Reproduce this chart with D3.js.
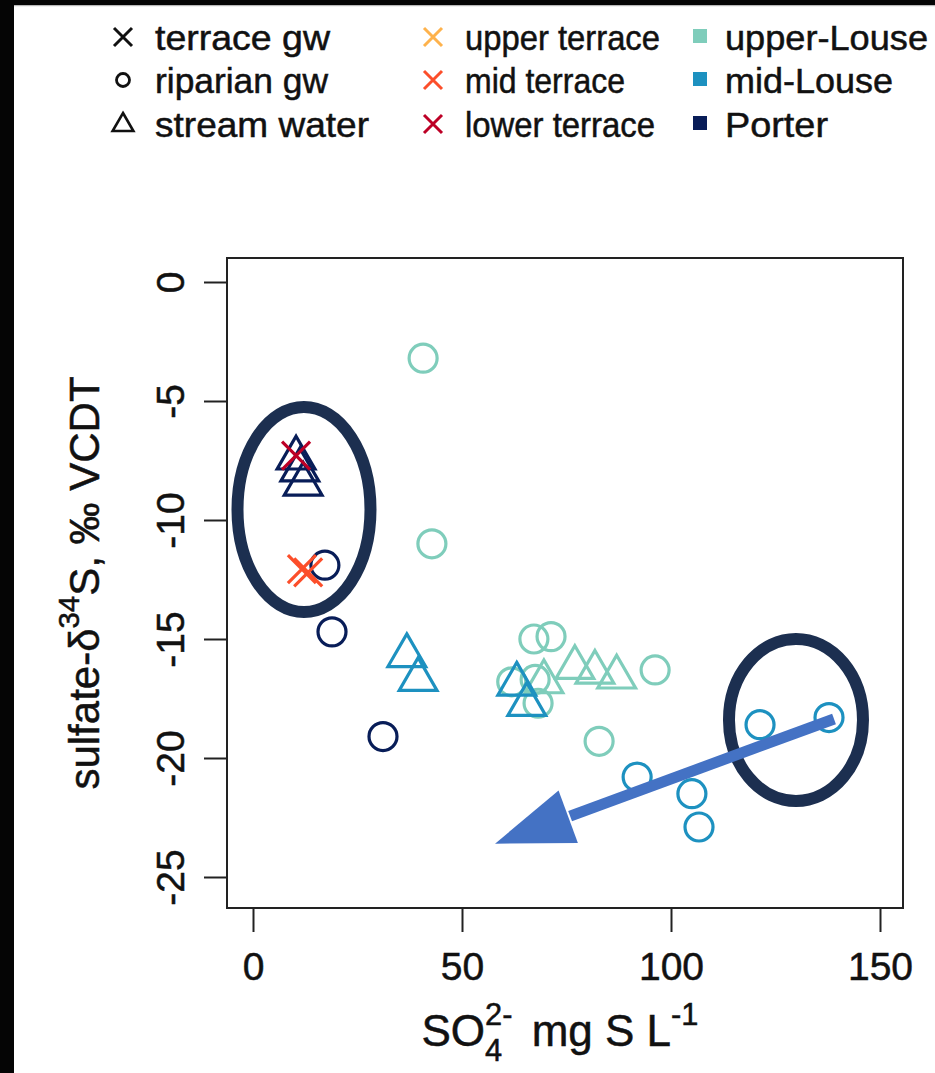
<!DOCTYPE html>
<html>
<head>
<meta charset="utf-8">
<script src="https://cdn.jsdelivr.net/npm/d3@7"></script>
<style>
  html, body { margin: 0; padding: 0; background: #fff; }
  svg { display: block; }
  text { font-family: "Liberation Sans", Arial, sans-serif; }
</style>
</head>
<body>
<svg id="chart" width="935" height="1073"></svg>
<script>
// ---------------- data ----------------
const xTicks = [0, 50, 100, 150];
const yTicks = [0, -5, -10, -15, -20, -25];

const siteNames = ["upper-Louse", "mid-Louse", "Porter"];
const siteColors = ["#7fcdbb", "#1d91c0", "#081d58"];
const terraceNames = ["upper terrace", "mid terrace", "lower terrace"];
const terraceColors = ["#feb24c", "#fc4e2a", "#bd0026"];
const typeNames = ["terrace gw", "riparian gw", "stream water"];

// riparian groundwater (circles)  [SO4 mg S/L, d34S]
const riparianUpperLouse = [[40.7, -3.2], [42.8, -11.0], [67.2, -15.0], [71.3, -14.9], [96.2, -16.3], [82.8, -19.3], [61.9, -16.8], [67.5, -16.7], [68.2, -17.7]];
const riparianMidLouse = [[121.3, -18.6], [137.8, -18.3], [91.9, -20.8], [105.0, -21.5], [106.7, -22.9]];
const riparianPorter = [[17.2, -11.9], [18.9, -14.7], [31.1, -19.1]];

// stream water (triangles)
const streamUpperLouse = [[69.6, -16.8], [77.0, -16.2], [81.8, -16.4], [87.0, -16.6]];
const streamMidLouse = [[36.8, -15.7], [39.5, -16.7], [63.1, -16.9], [65.5, -17.75]];
const streamPorter = [[10.3, -7.4], [11.2, -7.9], [12.0, -8.5]];

// terrace groundwater (crosses)
const terraceUpper = [];
const terraceMid = [[11.7, -12.06], [13.2, -12.2]];
const terraceLower = [[10.3, -7.3]];

// annotations (data coordinates)
const ellipseCenters = [[12.2, -9.56], [129.9, -18.4]];
const arrowFrom = [139.0, -18.36];
const arrowTo = [57.9, -23.6];

// ---------------- drawing ----------------
const svg = d3.select("#chart");
const W = 935, H = 1073;
svg.append("rect").attr("width", W).attr("height", H).attr("fill", "#fff");
// black frame bits from the screenshot
svg.append("rect").attr("x", 0).attr("y", 0).attr("width", 14).attr("height", H).attr("fill", "#050505");
svg.append("rect").attr("x", 0).attr("y", 0).attr("width", W).attr("height", 5).attr("fill", "#050505");
svg.append("rect").attr("x", 14).attr("y", 5).attr("width", W - 14).attr("height", 1.2).attr("fill", "#b8b8b8");

const box = {left: 227, right: 903, top: 258, bottom: 908};
const x = d3.scaleLinear().domain([0, 150]).range([253, 880]);
const y = d3.scaleLinear().domain([0, -25]).range([282, 877]);

const ink = "#111";
const plainFmt = d => String(d);

// plot box
svg.append("rect").attr("x", box.left).attr("y", box.top)
  .attr("width", box.right - box.left).attr("height", box.bottom - box.top)
  .attr("fill", "none").attr("stroke", "#222").attr("stroke-width", 2);

// axes
const xAxis = d3.axisBottom(x).tickValues(xTicks).tickSize(24).tickPadding(20).tickFormat(plainFmt);
const gx = svg.append("g").attr("transform", `translate(0,${box.bottom})`).call(xAxis);
gx.select(".domain").attr("stroke", "#222").attr("stroke-width", 2).attr("d", `M${x(0)},0H${x(150)}`);
gx.selectAll(".tick line").attr("stroke", "#222").attr("stroke-width", 2);
gx.selectAll(".tick text").attr("font-size", 39).attr("fill", ink)
  .attr("stroke", ink).attr("stroke-width", 0.5)
  .attr("font-family", "Liberation Sans, Arial, sans-serif");

const yAxis = d3.axisLeft(y).tickValues(yTicks).tickSize(23).tickPadding(0).tickFormat(plainFmt);
const gy = svg.append("g").attr("transform", `translate(${box.left},0)`).call(yAxis);
gy.select(".domain").attr("stroke", "#222").attr("stroke-width", 2).attr("d", `M0,${y(0)}V${y(-25)}`);
gy.selectAll(".tick line").attr("stroke", "#222").attr("stroke-width", 2);
gy.selectAll(".tick text").attr("font-size", 39).attr("fill", ink)
  .attr("stroke", ink).attr("stroke-width", 0.5)
  .attr("font-family", "Liberation Sans, Arial, sans-serif")
  .attr("x", null).attr("dy", null)
  .attr("text-anchor", "middle")
  .attr("transform", "translate(-57,0) rotate(-90)")
  .attr("dominant-baseline", "central");

// axis titles built from pieces
function richText(g, parts, size) {
  let cx = 0;
  parts.forEach(p => {
    const fs = p.scale ? size * p.scale : size;
    const t = g.append("text").attr("x", cx + (p.dx || 0)).attr("y", p.dy || 0)
      .attr("font-size", fs).attr("fill", ink).attr("stroke", ink).attr("stroke-width", 0.5)
      .attr("xml:space", "preserve").style("white-space", "pre").text(p.t);
    const w = t.node().getComputedTextLength();
    if (!p.noAdvance) cx += w + (p.dx || 0);
  });
  return cx;
}
const xTitle = svg.append("g");
const xw = richText(xTitle, [
  {t: "SO"},
  {t: "4", scale: 0.7, dy: 15, noAdvance: true},
  {t: "2-", scale: 0.7, dy: -21},
  {t: " mg S L", dx: 7},
  {t: "-1", scale: 0.7, dy: -21}
], 44);
xTitle.attr("transform", `translate(${(box.left + box.right) / 2 - 5 - xw / 2},1046)`);

const yTitle = svg.append("g");
const yw = richText(yTitle, [
  {t: "sulfate-\u03B4"},
  {t: "34", scale: 0.7, dy: -20},
  {t: "S, \u2030 VCDT"}
], 42);
yTitle.attr("transform", `translate(99,${(box.top + box.bottom) / 2 + yw / 2}) rotate(-90)`);

// marker shapes
const CR = 14;          // circle radius
const TR = 21.8;        // triangle circumradius
function triPath(cx, cy, r) {
  const hw = 0.866 * r;
  return `M${cx},${cy - r}L${cx + hw},${cy + r / 2}L${cx - hw},${cy + r / 2}Z`;
}
function crossPath(cx, cy, h) {
  return `M${cx - h},${cy - h}L${cx + h},${cy + h}M${cx - h},${cy + h}L${cx + h},${cy - h}`;
}

const SW = 3.2;
const plot = svg.append("g");
const circleSets = [riparianUpperLouse, riparianMidLouse, riparianPorter];
circleSets.forEach((pts, i) => {
  plot.selectAll(null).data(pts).enter().append("circle")
    .attr("cx", d => x(d[0])).attr("cy", d => y(d[1])).attr("r", CR)
    .attr("fill", "none").attr("stroke", siteColors[i]).attr("stroke-width", SW);
});
const triSets = [streamUpperLouse, streamMidLouse, streamPorter];
triSets.forEach((pts, i) => {
  plot.selectAll(null).data(pts).enter().append("path")
    .attr("d", d => triPath(x(d[0]), y(d[1]), TR))
    .attr("fill", "none").attr("stroke", siteColors[i]).attr("stroke-width", SW)
    .attr("stroke-linejoin", "miter");
});
const crossSets = [terraceUpper, terraceMid, terraceLower];
crossSets.forEach((pts, i) => {
  plot.selectAll(null).data(pts).enter().append("path")
    .attr("d", d => crossPath(x(d[0]), y(d[1]), CR))
    .attr("fill", "none").attr("stroke", terraceColors[i]).attr("stroke-width", SW);
});

// annotations
const ellipseR = [[66.5, 102.5], [67, 81]];
ellipseCenters.forEach((c, i) => {
  svg.append("ellipse").attr("cx", x(c[0])).attr("cy", y(c[1]))
    .attr("rx", ellipseR[i][0]).attr("ry", ellipseR[i][1])
    .attr("fill", "none").attr("stroke", "#1c2f50").attr("stroke-width", 12);
});
{
  const x0 = x(arrowFrom[0]), y0 = y(arrowFrom[1]);
  const x1 = x(arrowTo[0]), y1 = y(arrowTo[1]);
  const dx = x0 - x1, dy = y0 - y1, len = Math.hypot(dx, dy);
  const ux = dx / len, uy = dy / len, px = -uy, py = ux;
  const L = 78, HW = 28;
  const bx = x1 + ux * L, by = y1 + uy * L;
  svg.append("line").attr("x1", x0).attr("y1", y0).attr("x2", bx + ux * 2).attr("y2", by + uy * 2)
    .attr("stroke", "#4472c4").attr("stroke-width", 11);
  svg.append("path")
    .attr("d", `M${x1},${y1}L${bx + px * HW},${by + py * HW}L${bx - px * HW},${by - py * HW}Z`)
    .attr("fill", "#4472c4");
}

// legend
const legRows = [37, 80, 124];
const lfs = 35;
const leg = svg.append("g");
function legText(xp, yp, t, w) {
  leg.append("text").attr("x", xp).attr("y", yp).attr("font-size", lfs)
    .attr("dominant-baseline", "central").attr("fill", ink)
    .attr("stroke", ink).attr("stroke-width", 0.5)
    .attr("textLength", w).attr("lengthAdjust", "spacingAndGlyphs").text(t);
}
const typeW = [175, 173, 214];
const terraceW = [195, 160, 190];
const siteW = [203, 168, 103];
// column 1: sample types
leg.append("path").attr("d", crossPath(123, legRows[0], 9)).attr("stroke", "#111").attr("stroke-width", 3).attr("fill", "none");
leg.append("circle").attr("cx", 123).attr("cy", legRows[1]).attr("r", 6.5).attr("stroke", "#111").attr("stroke-width", 2.8).attr("fill", "none");
leg.append("path").attr("d", triPath(123, legRows[2] + 1, 12)).attr("stroke", "#111").attr("stroke-width", 2.6).attr("fill", "none");
typeNames.forEach((t, i) => legText(155, legRows[i], t, typeW[i]));
// column 2: terraces
terraceNames.forEach((t, i) => {
  leg.append("path").attr("d", crossPath(433, legRows[i], 9)).attr("stroke", terraceColors[i]).attr("stroke-width", 3).attr("fill", "none");
  legText(465, legRows[i], t, terraceW[i]);
});
// column 3: sites
siteNames.forEach((t, i) => {
  leg.append("rect").attr("x", 693).attr("y", legRows[i] - 8).attr("width", 14).attr("height", 14).attr("fill", siteColors[i]);
  legText(725, legRows[i], t, siteW[i]);
});
</script>
</body>
</html>
